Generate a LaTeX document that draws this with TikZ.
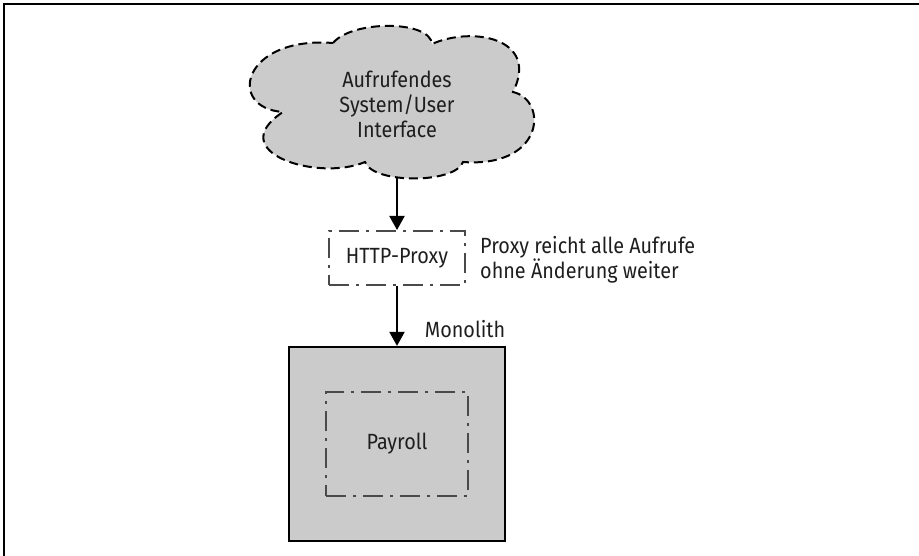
\documentclass[tikz,border=0pt]{standalone}
\usepackage{fontspec}
\setmainfont[FakeStretch=0.9]{Fira Sans}
\usetikzlibrary{arrows.meta}
\definecolor{shade}{HTML}{CBCBCB}
\definecolor{edgegray}{HTML}{4A4A4A}
\definecolor{ink}{HTML}{1E1E1E}
\tikzset{
  txt/.style={font=\fontsize{22}{25}\selectfont, text=ink, inner sep=0pt},
  cloudline/.style={draw=black, line width=2pt, dash pattern=on 9pt off 5pt, fill=shade},
  dashdotbox/.style={draw=edgegray, line width=2pt, dash pattern=on 20pt off 7pt on 3pt off 7pt,
    txt, inner sep=0pt},
  solidbox/.style={draw=black, line width=2.2pt, fill=shade},
  flow/.style={draw=black, line width=2pt, -{Triangle[length=14pt,width=15pt]}},
  framing/.style={draw=black, line width=1.4pt}
}
\begin{document}
\begin{tikzpicture}[x=1pt, y=-1pt]
  \useasboundingbox (0,0) rectangle (919,556);
  % outer frame: top and left edges only
  \draw[framing] (4,556) -- (4,4) -- (919,4);

  % calling system drawn as a cloud
  \path[cloudline]
    (333,43) .. controls (352,20) and (430,20) .. (432,44)
    .. controls (472,26) and (540,38) .. (513,92)
    .. controls (548,100) and (545,168) .. (463,162)
    .. controls (455,184) and (373,184) .. (365,162)
    .. controls (318,182) and (222,152) .. (283,112)
    .. controls (226,108) and (242,36) .. (333,43) -- cycle;
  \node[txt, align=center] (caller) at (397,104) {Aufrufendes\\System/User\\Interface};
  \coordinate (cloudbase) at (397,178);

  % proxy
  \node[dashdotbox, minimum width=136pt, minimum height=54pt] (proxy) at (397,258) {HTTP-Proxy};
  \node[txt, align=left, anchor=west] (proxynote) at (480,260)
    {Proxy reicht alle Aufrufe\\ohne Änderung weiter};

  % monolith with the payroll part inside
  \node[solidbox, minimum width=216pt, minimum height=194pt] (mono) at (397,444) {};
  \node[txt] (monolabel) at (465,329) {Monolith};
  \node[dashdotbox, minimum width=142pt, minimum height=104pt] (payroll) at (397,444) {Payroll};

  % call flow
  \draw[flow] (cloudbase) -- (proxy.north);
  \draw[flow] (proxy.south) -- (mono.north);
\end{tikzpicture}
\end{document}
